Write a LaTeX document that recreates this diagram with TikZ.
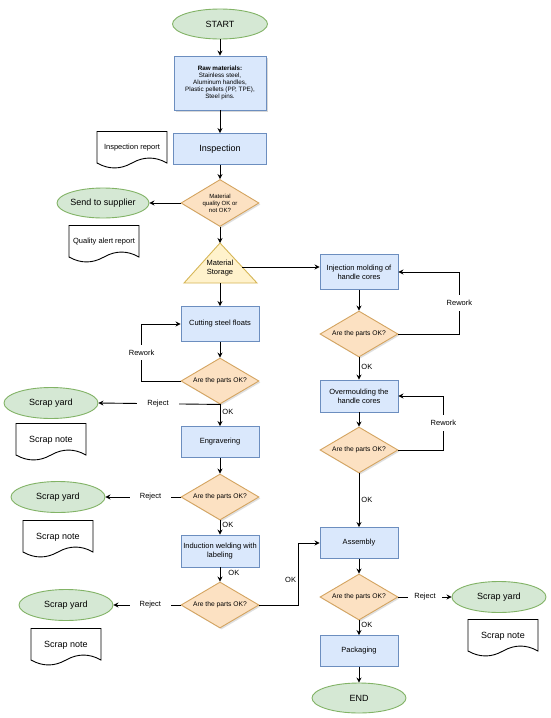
\documentclass[tikz,border=0pt]{standalone}
\usepackage{fontspec}
\setmainfont{Liberation Sans}
\usetikzlibrary{arrows.meta,calc,shapes.geometric,shadows}
\definecolor{boxfill}{HTML}{DAE8FC}
\definecolor{boxline}{HTML}{6C8EBF}
\definecolor{decfill}{HTML}{FCE1C2}
\definecolor{decline}{HTML}{D4A460}
\definecolor{endfill}{HTML}{D5E8D4}
\definecolor{endline}{HTML}{82B366}
\definecolor{storefill}{HTML}{FFF2CC}
\definecolor{storeline}{HTML}{D6B656}
\tikzset{
  every picture/.style={line width=0.9pt},
  stepbox/.style={draw=boxline, fill=boxfill, align=center, minimum width=78pt, minimum height=31pt, inner sep=1pt, font=\fontsize{7.5}{9}\selectfont},
  check/.style={diamond, draw=decline, fill=decfill, aspect=1.7, minimum width=78pt, minimum height=46pt, inner sep=0pt, align=center, font=\fontsize{6.7}{7.5}\selectfont, drop shadow={shadow xshift=1.5pt, shadow yshift=-1.5pt, opacity=0.25}},
  term/.style={ellipse, draw=endline, fill=endfill, minimum width=94pt, minimum height=31pt, inner sep=0pt, font=\fontsize{9}{10}\selectfont},
  paper/.style={minimum width=70pt, minimum height=20pt, inner sep=0pt, align=center, font=\fontsize{7.5}{9}\selectfont},
  tag/.style={font=\fontsize{7.5}{9}\selectfont, inner sep=2pt},
  gap/.style={tag, fill=white, inner xsep=10pt, inner ysep=5pt},
  flow/.style={-{Stealth[length=5pt, width=5pt]}, draw=black},
}
% outline of a document sheet round node #1
\newcommand{\sheet}[1]{%
  \draw[black, shift={(#1.center)}] (-35,16.5) -- (35,16.5) -- (35,-15)
    .. controls (23.3,-8.4) and (11.7,-8.4) .. (0,-15)
    .. controls (-11.7,-21.6) and (-23.3,-21.6) .. (-35,-15) -- cycle;}

\begin{document}
\begin{tikzpicture}[x=1pt, y=1pt]
\useasboundingbox[fill=white] (0,0) rectangle (550,-718);
% left column
\node[term, minimum width=95pt, minimum height=30pt] (start) at (220,-24) {START};
\node[stepbox, minimum width=92pt, minimum height=54pt, font=\fontsize{6.3}{7}\selectfont,
  drop shadow={shadow xshift=2pt, shadow yshift=-2pt, opacity=0.3}] (raw) at (220,-83)
  {\textbf{Raw materials:}\\Stainless steel,\\Aluminum handles,\\Plastic pellets (PP, TPE),\\Steel pins.};
\node[stepbox, minimum width=93pt, font=\fontsize{9}{10}\selectfont] (insp) at (220,-149) {Inspection};
\node[check, font=\fontsize{6}{7}\selectfont, minimum height=47pt] (qdec) at (220,-203) {Material\\quality OK or\\not OK?};
\node[term, minimum width=89pt, minimum height=30pt] (supp) at (103,-203) {Send to supplier};
\node[paper] (inrep) at (132,-148) {Inspection report};
\node[paper] (qrep) at (104,-242) {Quality alert report};
% storage triangle
\coordinate (storetop) at (220,-243);
\coordinate (storebot) at (220,-283);
\coordinate (storeR) at (242,-267);
\draw[storeline, fill=storefill] (storetop) -- (257,-283) -- (184,-283) -- cycle;
\node[align=center, font=\fontsize{7.5}{9}\selectfont] (store) at (220,-268) {Material\\Storage};
\node[stepbox, minimum height=35pt] (cut) at (220,-324) {Cutting steel floats};
\node[check] (c1) at (220,-381) {Are the parts OK?};
\node[stepbox] (engr) at (220,-442) {Engravering};
\node[check] (c2) at (220,-497) {Are the parts OK?};
\node[stepbox, minimum height=32pt] (weld) at (220,-551) {Induction welding with\\labeling};
\node[check] (c3) at (220,-605) {Are the parts OK?};
% scrap ends
\node[term] (scrap1) at (51,-403) {Scrap yard};
\node[paper, font=\fontsize{9}{10}\selectfont] (note1) at (51,-440) {Scrap note};
\node[term] (scrap2) at (58,-497) {Scrap yard};
\node[paper, font=\fontsize{9}{10}\selectfont] (note2) at (58,-537) {Scrap note};
\node[term] (scrap3) at (66,-605) {Scrap yard};
\node[paper, font=\fontsize{9}{10}\selectfont] (note3) at (66,-645) {Scrap note};
% right column
\node[stepbox, minimum height=35pt] (inj) at (359,-272) {Injection molding of\\handle cores};
\node[check] (r1) at (359,-334) {Are the parts OK?};
\node[stepbox, minimum height=32pt] (over) at (359,-396) {Overmoulding the\\handle cores};
\node[check] (r2) at (359,-450) {Are the parts OK?};
\node[stepbox] (asm) at (359,-543) {Assembly};
\node[check] (r3) at (359,-597) {Are the parts OK?};
\node[term] (scrap4) at (499,-597) {Scrap yard};
\node[paper, font=\fontsize{9}{10}\selectfont] (note4) at (503,-636) {Scrap note};
\node[stepbox] (pack) at (359,-651) {Packaging};
\node[term, minimum height=30pt] (end) at (359,-698) {END};
% document sheets
\sheet{inrep} \sheet{qrep} \sheet{note1} \sheet{note2} \sheet{note3} \sheet{note4}
% connectors
\draw[flow] (start) -- (raw);
\draw[flow] (raw) -- (insp);
\draw[flow] (insp) -- (qdec);
\draw[flow] (qdec.west) -- (supp.east);
\draw[flow] (qdec.south) -- (storetop);
\draw[flow] (storebot) -- (cut.north);
\draw[flow] (storeR) -- (storeR -| inj.west);
\draw[flow] (cut) -- (c1);
\draw[flow] (c1.west) -- ++(-39,0) |- node[gap, pos=0.25, inner xsep=2pt] {Rework} (cut.west);
\draw[flow] (c1.south) -- node[gap, pos=0.51] {Reject} (scrap1.east);
\draw[flow] (c1.south) -- node[tag, right, pos=0.35] {OK} (engr.north);
\draw[flow] (engr) -- (c2);
\draw[flow] (c2.west) -- node[gap, pos=0.4] {Reject} (scrap2.east);
\draw[flow] (c2.south) -- node[tag, right, pos=0.3] {OK} (weld.north);
\draw[flow] (weld.south) -- node[tag, right, pos=0.4, xshift=6pt] {OK} (c3.north);
\draw[flow] (c3.west) -- node[gap, pos=0.45] {Reject} (scrap3.east);
\draw[flow] (c3.east) -- ++(39,0) |- node[tag, left, pos=0.2] {OK} (asm.west);
\draw[flow] (inj) -- (r1);
\draw[flow] (r1.east) -- ++(61,0) |- node[gap, pos=0.25, inner xsep=2pt] {Rework} (inj.east);
\draw[flow] (r1.south) -- node[tag, right, pos=0.45] {OK} (over.north);
\draw[flow] (over) -- (r2);
\draw[flow] (r2.east) -- ++(45,0) |- node[gap, pos=0.25, inner xsep=2pt] {Rework} (over.east);
\draw[flow] (r2.south) -- node[tag, right, pos=0.5] {OK} (asm.north);
\draw[flow] (asm) -- (r3);
\draw[flow] (r3.east) -- node[gap, pos=0.5, inner xsep=6pt] {Reject} (scrap4.west);
\draw[flow] (r3.south) -- node[tag, right, pos=0.3] {OK} (pack.north);
\draw[flow] (pack) -- (end);
\end{tikzpicture}
\end{document}
